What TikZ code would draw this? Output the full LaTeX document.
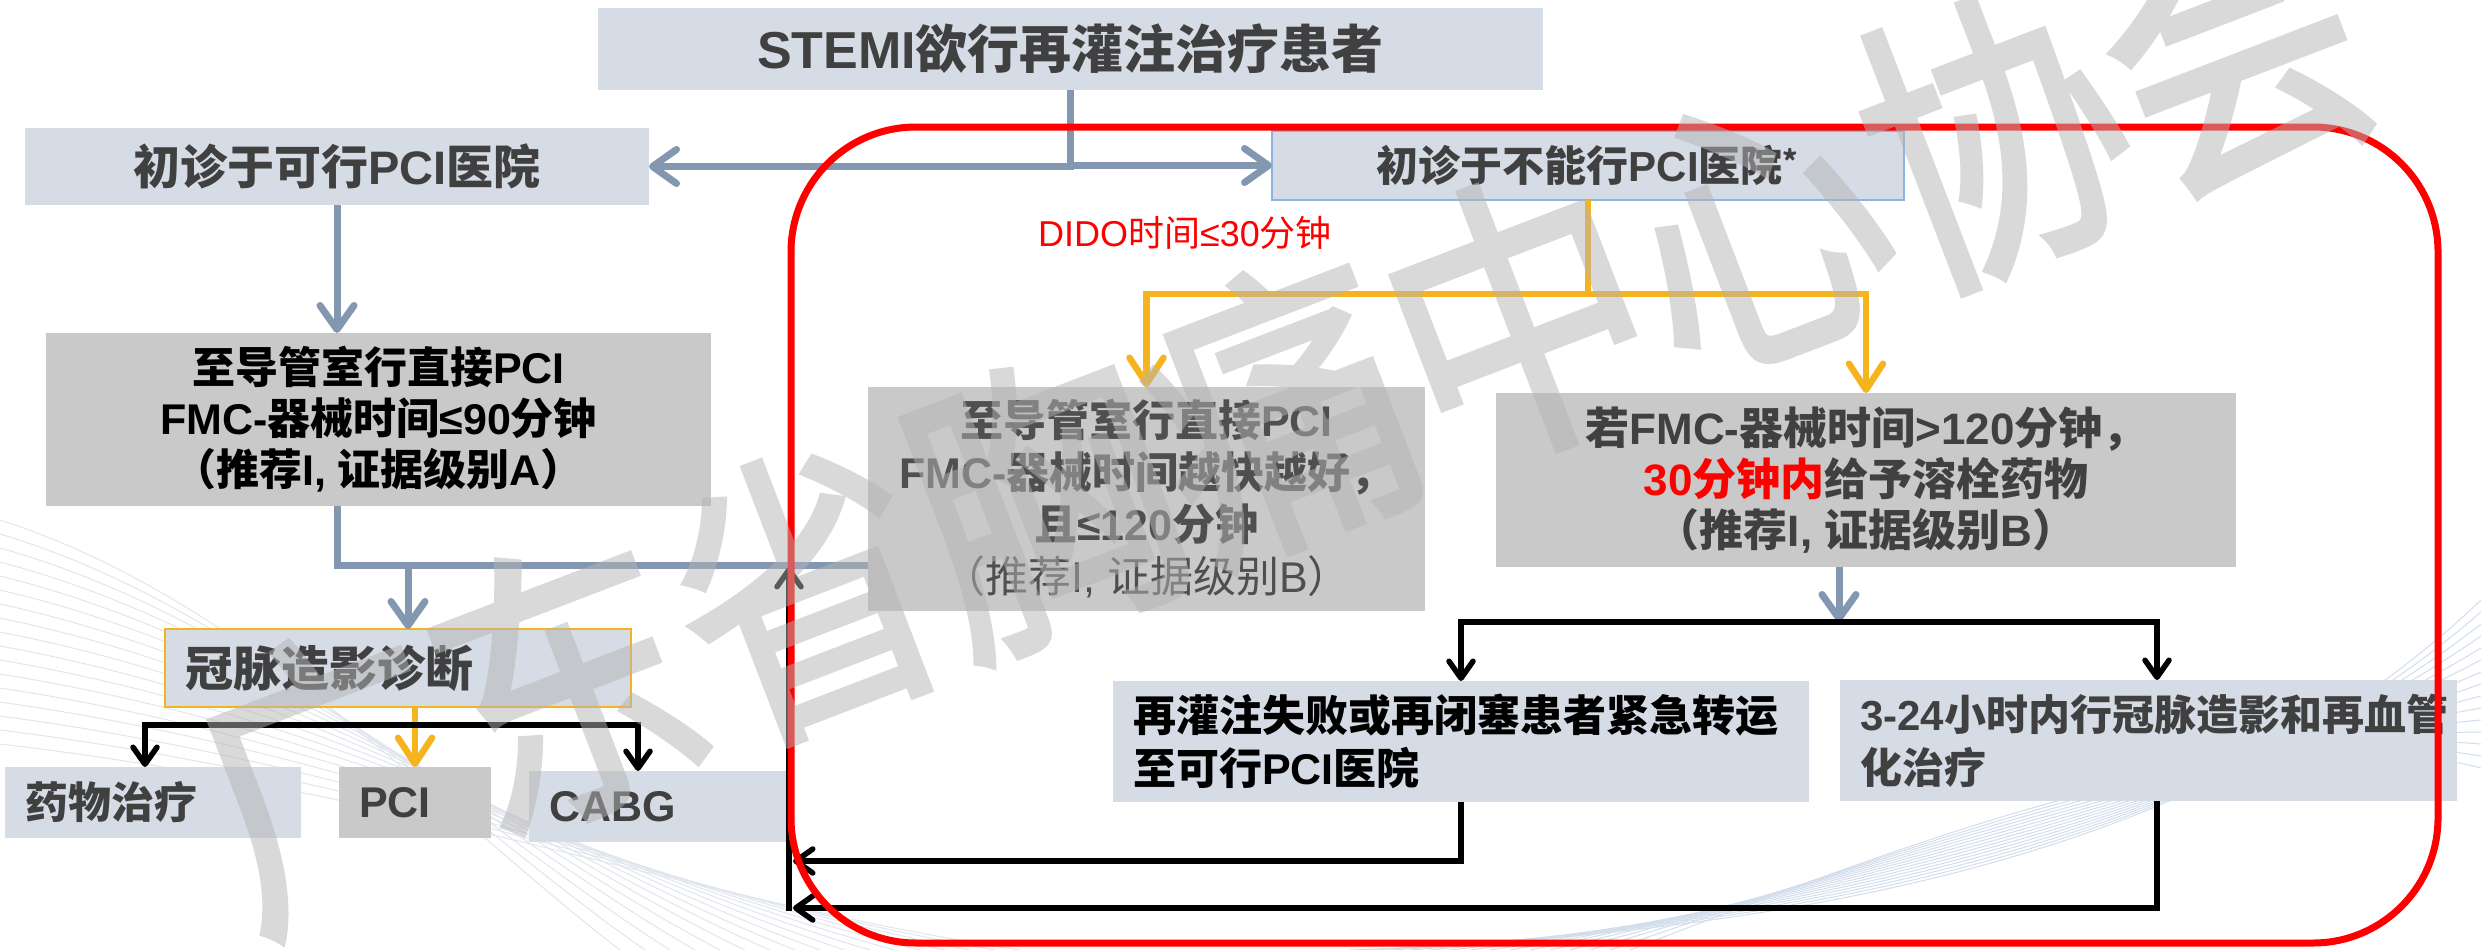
\documentclass[tikz,border=0pt]{standalone}
\usepackage{fontspec}
\setmainfont{Noto Sans CJK SC}
\newfontfamily\lat{Liberation Sans}
\newfontfamily\wmf{Noto Sans CJK SC}[FakeBold=2]
\usetikzlibrary{arrows.meta}
\definecolor{lb}{HTML}{D6DCE5}
\definecolor{gb}{HTML}{C9C9C9}
\definecolor{bgc}{HTML}{8497B0}
\definecolor{yc}{HTML}{F5B41E}
\definecolor{tx}{HTML}{404040}
\definecolor{mgt}{HTML}{4F4F4F}
\definecolor{bnb}{HTML}{8DB3E2}
\definecolor{wmc}{HTML}{B4B4B4}
\definecolor{sw}{HTML}{E1E6EE}
\definecolor{swb}{HTML}{D3DEEC}
\newcommand\LS[1]{{\lat #1}}
\begin{document}
\begin{tikzpicture}[x=1pt,y=-1pt,
 box/.style={inner sep=0pt, outer sep=0pt, align=center, anchor=center},
 lbox/.style={box, fill=lb},
 gbox/.style={box, fill=gb},
 lft/.style={align=left, inner xsep=20pt, inner ysep=0pt},
 bgarrow/.style={draw=bgc, line width=7pt, -{Straight Barb[length=24pt,width=34pt,round]}},
 bgline/.style={draw=bgc, line width=7pt},
 yarrow/.style={draw=yc, line width=6.5pt, -{Straight Barb[length=26pt,width=34pt,round]}},
 karrow/.style={draw=black, line width=5.5pt, -{Straight Barb[length=17pt,width=24pt,round]}},
 swl/.style={draw=sw, line width=1pt},
 swbl/.style={draw=swb, line width=1pt},
]
\useasboundingbox (0,0) rectangle (2481,950);
\clip (0,0) rectangle (2481,950);
\fill[white] (0,0) rectangle (2481,950);

% background swoosh
\foreach \i in {0,...,16} {
  \draw[swl] (0,{520+14*\i}) .. controls ({250+10*\i},{600+12*\i}) and ({450+15*\i},{820+5*\i}) .. ({620+25*\i},950);
}
\foreach \i in {0,...,14} {
  \draw[swbl] ({1350+20*\i},950) .. controls (1900,{930-6*\i}) and (2250,{820-8*\i}) .. (2481,{600+12*\i});
}

% boxes
\node[lbox, minimum width=945pt, minimum height=82pt, font=\fontsize{52}{60}\selectfont\bfseries, text=tx] (title) at (1070.5,49) {\LS{STEMI}欲行再灌注治疗患者};
\node[lbox, minimum width=624pt, minimum height=77pt, font=\fontsize{47}{56}\selectfont\bfseries, text=tx] (kx) at (337,166.5) {初诊于可行\LS{PCI}医院};
\node[lbox, draw=bnb, line width=1.5pt, minimum width=632pt, minimum height=69pt, font=\fontsize{42}{50}\selectfont\bfseries, text=tx] (bn) at (1588,165.5) {初诊于不能行\LS{PCI}医院\textsuperscript{*}};
\node[text=red, font=\fontsize{36}{42}\selectfont, inner sep=0pt] (dido) at (1185,233) {\LS{DIDO}时间\LS{≤30}分钟};

\node[gbox, minimum width=665pt, minimum height=173pt, font=\fontsize{43}{51}\selectfont\bfseries, text=black] (lg) at (378.5,419.5) {至导管室行直接\LS{PCI}\\\LS{FMC-}器械时间\LS{≤90}分钟\\（推荐\LS{I, }证据级别\LS{A}）};
\node[gbox, minimum width=557pt, minimum height=224pt, font=\fontsize{43}{52}\selectfont, text=mgt] (mg) at (1146.5,499) {\textbf{至导管室行直接\LS{PCI}}\\\textbf{\LS{FMC-}器械时间越快越好，}\\\textbf{且\LS{≤120}分钟}\\（推荐\LS{I, }证据级别\LS{B}）};
\node[gbox, minimum width=740pt, minimum height=174pt, font=\fontsize{44}{51}\selectfont\bfseries, text=tx] (rg) at (1866,480) {若\LS{FMC-}器械时间\LS{>120}分钟，\\\textcolor{red}{\LS{30}分钟内}给予溶栓药物\\（推荐\LS{I, }证据级别\LS{B}）};

\node[lbox, draw=yc, line width=2pt, lft, text width=426pt, minimum height=78pt, font=\fontsize{48}{56}\selectfont\bfseries, text=tx] (gm) at (398,668) {冠脉造影诊断};
\node[lbox, lft, text width=256pt, minimum height=71pt, font=\fontsize{43}{51}\selectfont\bfseries, text=tx] (yw) at (153,802.5) {药物治疗};
\node[gbox, lft, text width=112pt, minimum height=71pt, font=\fontsize{43}{51}\selectfont\bfseries, text=tx] (pci) at (415,802.5) {\LS{PCI}};
\node[lbox, lft, text width=219pt, minimum height=71pt, font=\fontsize{43}{51}\selectfont\bfseries, text=tx] (cabg) at (658.5,806.5) {\LS{CABG}};

\node[lbox, lft, text width=656pt, minimum height=121pt, font=\fontsize{43}{53}\selectfont\bfseries, text=black] (zz) at (1461,741.5) {再灌注失败或再闭塞患者紧急转运\\至可行\LS{PCI}医院};
\node[lbox, lft, text width=577pt, minimum height=121pt, font=\fontsize{42}{53}\selectfont\bfseries, text=tx] (tf) at (2148.5,740.5) {\LS{3-24}小时内行冠脉造影和再血管\\化治疗};

% connectors
\draw[bgarrow] (title.south) |- (kx.east);
\draw[bgarrow] (title.south) |- (bn.west);
\draw[bgarrow] (kx.south) -- (kx.south |- lg.north);
\coordinate (j1) at (337,565);
\coordinate (j2) at (408,565);
\draw[bgline] (kx.south |- lg.south) -- (j1) -- (mg.west |- j1);
\draw[bgarrow] (j2) -- (j2 |- gm.north);

\coordinate (yj) at (1588,294);
\draw[yarrow] (bn.south) -- (yj) -| (mg.north);
\draw[yarrow] (yj) -| (rg.north);
\draw[yarrow] (gm.south -| pci.north) -- (pci.north);

\coordinate (b1) at (145,725);
\coordinate (b2) at (638,725);
\draw[karrow] (b2) -- (b1) -- (b1 |- yw.north);
\draw[karrow] (b1) -- (b2) -- (b2 |- cabg.north);

\coordinate (c1) at (1839,622);
\draw[bgarrow] (rg.south -| c1) -- (c1);
\coordinate (rl) at (1461,622);
\coordinate (rr) at (2157,622);
\draw[karrow] (rr) -- (rl) -- (zz.north);
\draw[karrow] (rl) -- (rr) -- (rr |- tf.north);

\coordinate (r1) at (793,861);
\coordinate (r2) at (793,908);
\draw[karrow] (zz.south) |- (r1);
\draw[karrow] (rr |- tf.south) |- (r2);
\coordinate (vb) at (789,911);
\coordinate (vt) at (789,567);
\draw[karrow] (vb) -- (vt);

% red frame
\draw[red, line width=7pt, rounded corners=125pt] (791,127) rectangle (2438,943);

% watermark
\begin{scope}[transparency group, opacity=0.5]
\node[text=wmc, font=\wmf\fontsize{300}{300}\selectfont, rotate=21, xscale=0.85, inner sep=0pt] (wm) at (1280,410) {广东省胸痛中心协会};
\end{scope}
\end{tikzpicture}
\end{document}
